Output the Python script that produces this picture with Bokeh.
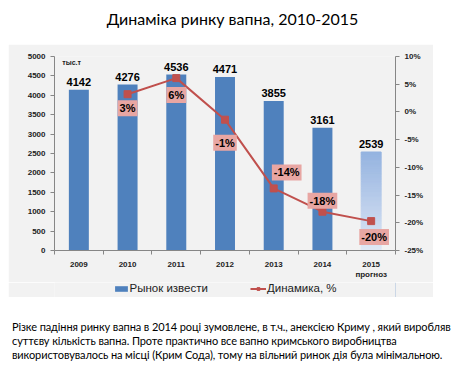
from bokeh.plotting import figure
from bokeh.models import (Range1d, LinearAxis, FixedTicker, PrintfTickFormatter,
                          ColumnDataSource, LabelSet, Label, Legend, LegendItem, Div)
from bokeh.layouts import column
from bokeh.core.properties import value
from bokeh.embed import file_html
from bokeh.resources import INLINE
import numpy as np

# ---- data ----
years = ["2009", "2010", "2011", "2012", "2013", "2014", "2015\nпрогноз"]
market = [4142, 4276, 4536, 4471, 3855, 3161, 2539]
forecast = [False, False, False, False, False, False, True]
dyn_years = ["2010", "2011", "2012", "2013", "2014", "2015\nпрогноз"]
dynamics = [3.2, 6.1, -1.4, -13.8, -18.0, -19.7]
dyn_labels = ["3%", "6%", "-1%", "-14%", "-18%", "-20%"]
left_ticks = [0, 500, 1000, 1500, 2000, 2500, 3000, 3500, 4000, 4500, 5000]
right_ticks = [-25, -20, -15, -10, -5, 0, 5, 10]
title_text = "Динаміка ринку вапна, 2010-2015"
note_lines = [
    "Різке падіння ринку вапна в 2014 році зумовлене, в т.ч., анексією Криму , який виробляв",
    "суттєву кількість вапна. Проте практично все вапно кримського виробництва",
    "використовувалось на місці (Крим Сода), тому на вільний ринок дія була мінімальною.",
]

# label offsets (styling)
lab_dx = [0, 0, 0, 13, 0, 3]
lab_dy = [14, 17, 23, -16, -11, 16]

BLUE = "#4f81bd"
RED = "#c0504d"
BG = "#f2f2f2"
AXC = "#868686"
FONT = "Liberation Sans"

W = 449

# ---- title ----
title_div = Div(text=title_text, width=W, height=36,
                styles={"font-family": "Lato", "font-size": "16px", "color": "#000",
                        "text-align": "center", "line-height": "21px",
                        "margin": "0", "padding": "0"})

# ---- main figure ----
n = len(years)
xc = np.arange(n) + 0.5
p = figure(width=425, height=238, x_range=Range1d(0, n), y_range=Range1d(0, 5000),
           toolbar_location=None, output_backend="svg",
           min_border_left=46, min_border_right=38, min_border_top=12, min_border_bottom=28,
           background_fill_color=BG, border_fill_color=BG)
p.outline_line_color = None
p.grid.visible = False
p.extra_y_ranges = {"pct": Range1d(-25, 10)}

bw = 0.41
solid_x = [x for x, f in zip(xc, forecast) if not f]
solid_top = [m for m, f in zip(market, forecast) if not f]
p.vbar(x=solid_x, top=solid_top, width=bw, color=BLUE, line_color=None)

# forecast bar as gradient strips
def hexmix(c1, c2, t):
    a = [int(c1[i:i + 2], 16) for i in (1, 3, 5)]
    b = [int(c2[i:i + 2], 16) for i in (1, 3, 5)]
    return "#%02x%02x%02x" % tuple(int(round(a[k] + (b[k] - a[k]) * t)) for k in range(3))

for x, m, f in zip(xc, market, forecast):
    if f:
        N = 40
        edges = np.linspace(0, m, N + 1)
        cols = [hexmix("#e0e8f5", "#94b3e0", (i + 0.5) / N) for i in range(N)]
        p.quad(left=x - bw / 2, right=x + bw / 2, bottom=edges[:-1], top=edges[1:],
               fill_color=cols, line_color=cols, line_width=1)

# value labels
vsrc = ColumnDataSource(dict(x=xc, y=market, t=[str(v) for v in market]))
p.add_layout(LabelSet(x="x", y="y", text="t", source=vsrc, y_offset=4,
                      text_align="center", text_baseline="bottom",
                      text_font=value(FONT), text_font_size="11px",
                      text_font_style="bold", text_color="#000000"))

# dynamics line
dx = [xc[years.index(y)] for y in dyn_years]
p.line(dx, dynamics, y_range_name="pct", color=RED, line_width=2)
p.scatter(dx, dynamics, y_range_name="pct", marker="square", size=7,
          color=RED, line_color=RED)

dsrc = ColumnDataSource(dict(x=dx, y=dynamics, t=dyn_labels, ox=lab_dx, oy=lab_dy))
p.text(x="x", y="y", text="t", source=dsrc, y_range_name="pct",
       x_offset="ox", y_offset="oy",
       text_align="center", text_baseline="middle",
       text_font=value(FONT), text_font_size="11px",
       text_font_style="bold", text_color="#000000",
       background_fill_color="#e8a6a3", padding=2)

# unit label
p.add_layout(Label(x=0.16, y=4850, text="тыс.т", text_font=FONT,
                   text_font_size="7px", text_font_style="bold",
                   text_baseline="middle", text_color="#222222"))

# axes
p.xaxis.ticker = FixedTicker(ticks=list(xc), minor_ticks=list(range(n + 1)))
p.xaxis.major_label_overrides = {float(x): y for x, y in zip(xc, years)}
p.xaxis.major_tick_line_color = None
p.xaxis.major_tick_out = 0
p.xaxis.major_tick_in = 0
p.xaxis.minor_tick_line_color = AXC
p.xaxis.minor_tick_out = 4
p.xaxis.minor_tick_in = 0
p.xaxis.axis_line_color = AXC
p.xaxis.major_label_standoff = 5

p.yaxis.ticker = FixedTicker(ticks=left_ticks)
p.yaxis.minor_tick_line_color = None
p.yaxis.major_tick_out = 4
p.yaxis.major_tick_in = 0
p.yaxis.axis_line_color = AXC
p.yaxis.major_tick_line_color = AXC
p.yaxis.major_label_standoff = 5

ra = LinearAxis(y_range_name="pct", ticker=FixedTicker(ticks=right_ticks),
                formatter=PrintfTickFormatter(format="%d%%"))
ra.minor_tick_line_color = None
ra.major_tick_out = 4
ra.major_tick_in = 0
ra.axis_line_color = AXC
ra.major_tick_line_color = AXC
ra.major_label_standoff = 5
p.add_layout(ra, "right")

for ax in [p.xaxis[0], p.yaxis[0], ra]:
    ax.major_label_text_font = FONT
    ax.major_label_text_font_size = "8px"
    ax.major_label_text_font_style = "bold"
    ax.major_label_text_color = "#222222"

# ---- legend strip ----
lf = figure(width=425, height=15, x_range=Range1d(0, 1), y_range=Range1d(0, 1),
            toolbar_location=None, output_backend="svg",
            min_border_left=46, min_border_right=38, min_border_top=0, min_border_bottom=0,
            background_fill_color=BG, border_fill_color=BG)
lf.axis.visible = False
lf.grid.visible = False
lf.outline_line_color = None
# proxy renderers kept outside the visible range; they only supply legend glyphs
lb = lf.vbar(x=[5], top=[1], width=0.1, color=BLUE, line_color=None)
ll = lf.line(x=[5, 6], y=[0.5, 0.5], color=RED, line_width=2)
ls = lf.scatter(x=[5], y=[0.5], marker="square", size=7, color=RED)
legend = Legend(items=[LegendItem(label="Рынок извести", renderers=[lb]),
                       LegendItem(label="Динамика, %", renderers=[ll, ls])],
                orientation="horizontal", location="top_center",
                background_fill_alpha=0, border_line_color=None,
                label_text_font=FONT, label_text_font_size="11.5px",
                label_text_color="#222222", glyph_width=16, glyph_height=7,
                label_standoff=1, spacing=42, padding=0, margin=0,
                label_height=11)
lf.add_layout(legend, "center")

# ---- note ----
note_div = Div(text="<br>".join(note_lines), width=W, height=63,
               styles={"font-family": "Lato", "font-size": "11px", "color": "#000",
                       "letter-spacing": "-0.1px", "line-height": "14px",
                       "padding-top": "23px", "padding-left": "4px",
                       "margin": "0", "box-sizing": "border-box", "white-space": "nowrap"})

layout = column(title_div, p, lf, note_div, spacing=0, margin=(8, 0, 0, 8))
open("out.html", "w").write(file_html(layout, INLINE))
